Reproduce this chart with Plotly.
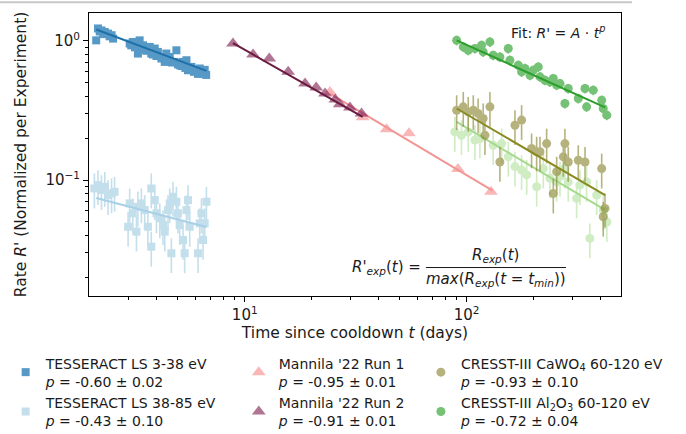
import plotly.graph_objects as go

# ---- data (t in days, R' normalized rate) ----
tess_lo_t = [2.14, 2.18, 2.22, 2.26, 2.30, 2.34, 2.42, 2.46, 2.51, 2.55,
             3.03, 3.08, 3.13, 3.20, 3.30, 3.36, 3.42, 3.48, 3.60, 3.73,
             3.79, 3.86, 3.93, 4.00, 4.06, 4.21, 4.36, 4.43, 4.50, 4.59,
             4.70, 4.83, 4.92, 5.00, 5.09, 5.20, 5.27, 5.40, 5.46, 5.55,
             5.75, 5.90, 6.05, 6.15, 6.27, 6.38, 6.49, 6.60, 6.70]
tess_lo_r = [1.01, 1.23, 1.17, 1.19, 1.12, 1.16, 1.13, 1.08, 1.10, 1.04,
             0.958, 0.93, 0.984, 0.90, 0.812, 1.01, 0.87, 0.931, 0.85, 0.906,
             0.812, 0.80, 0.882, 0.78, 0.834, 0.748, 0.707, 0.812, 0.72, 0.767,
             0.70, 0.707, 0.857, 0.68, 0.669, 0.66, 0.707, 0.64, 0.727, 0.616,
             0.651, 0.60, 0.616, 0.58, 0.634, 0.583, 0.599, 0.62, 0.57]

tess_hi_t = [2.10, 2.18, 2.26, 2.34, 2.42, 2.51, 2.59, 2.98, 3.03, 3.13,
             3.25, 3.30, 3.42, 3.54, 3.66, 3.79, 3.79, 3.93, 4.00, 4.14,
             4.28, 4.36, 4.51, 4.59, 4.67, 4.75, 4.92, 5.00, 5.09, 5.27,
             5.36, 5.46, 5.55, 5.65, 6.16, 6.27, 6.38, 6.49, 6.60, 6.72]
tess_hi_r = [0.0871, 0.0921, 0.0848, 0.0895, 0.078, 0.0803, 0.0824, 0.0462, 0.068, 0.0577,
             0.0426, 0.0643, 0.068, 0.0609, 0.0462, 0.0871, 0.0332, 0.0718, 0.0577, 0.0531,
             0.0475, 0.0426, 0.0609, 0.068, 0.0298, 0.0759, 0.0699, 0.0577, 0.0475, 0.0371,
             0.0298, 0.0609, 0.0718, 0.0462, 0.0298, 0.0489, 0.0577, 0.0371, 0.0489, 0.0699]

mannila1_t = [24.2, 34.0, 43.6, 55.0, 91.4, 128.8]
mannila1_r = [0.43, 0.283, 0.232, 0.217, 0.120, 0.0824]

mannila2_t = [8.85, 10.9, 12.9, 15.7, 18.7, 21.0, 23.0, 25.6, 26.8, 29.8, 33.6]
mannila2_r = [0.957, 0.80, 0.747, 0.60, 0.494, 0.463, 0.419, 0.38, 0.351, 0.332, 0.301]

cawo_t = [90.2, 96.6, 101.7, 107.2, 112.7, 118.8, 121, 127.4, 141.3, 165.2,
          177, 196.3, 206.9, 214.2, 229.6, 245.9, 254.7, 272.9, 277.4, 287.2,
          318.7, 341.8, 406.4, 413, 420.7]
cawo_r = [0.318, 0.336, 0.309, 0.318, 0.301, 0.277, 0.210, 0.336, 0.135, 0.248,
          0.270, 0.169, 0.160, 0.160, 0.183, 0.080, 0.115, 0.147, 0.183, 0.135,
          0.139, 0.135, 0.121, 0.0545, 0.0626]

al2o3_t = [90.2, 96.6, 101.7, 109, 116.8, 118.8, 127.4, 131.8, 141.3, 154.1,
           156.7, 171, 177, 183.2, 193.2, 199.7, 210.4, 214.2, 225.5, 237.6,
           245.9, 254.7, 263.7, 277.4, 287.2, 318.7, 341.8, 347.5, 372.4, 406.4,
           413, 428.5]
al2o3_r = [1.01, 0.906, 0.857, 0.882, 0.931, 0.834, 0.984, 0.789, 0.767, 0.882,
           0.727, 0.669, 0.599, 0.634, 0.567, 0.616, 0.651, 0.552, 0.522, 0.508,
           0.537, 0.481, 0.494, 0.355, 0.455, 0.386, 0.455, 0.336, 0.443, 0.375,
           0.327, 0.293]

# third CRESST set (light green), not listed in the legend
cresst3_t = [88.5, 94.8, 101.7, 109, 114.8, 131.8, 143.9, 154.1, 165.2, 177,
             186.6, 206.9, 221.8, 237.6, 254.7, 263.7, 277.4, 287.2, 313.3, 324.3,
             347.5, 359.5, 385.6, 413, 428.5]
cresst3_r = [0.222, 0.210, 0.222, 0.194, 0.199, 0.178, 0.183, 0.147, 0.125, 0.118,
             0.109, 0.0895, 0.121, 0.103, 0.097, 0.106, 0.121, 0.097, 0.0739, 0.092,
             0.097, 0.0381, 0.078, 0.061, 0.050]

# fit line end points R' = A t^p
fit_tess_lo = ([2.14, 6.72], [1.21, 0.61])
fit_tess_hi = ([2.14, 6.72], [0.0743, 0.046])
fit_mannila1 = ([24.2, 131.0], [0.419, 0.084])
fit_mannila2 = ([8.85, 34.0], [0.965, 0.285])
fit_cawo = ([90.2, 421.0], [0.327, 0.078])
fit_al2o3 = ([90.2, 421.0], [1.01, 0.333])
fit_cresst3 = ([90.2, 421.0], [0.262, 0.061])

FONT = "DejaVu Sans"
TXT = "#1a1a1a"
W, H = 686, 434


def px_to_paper_x(px):
    return (px - 89.3) / 531.7


def px_to_paper_y(py):
    return (296.0 - py) / 283.3


fig = go.Figure()


def add_points(t, r, name, color, symbol, size, opacity, err, legend, rank, show=True):
    fig.add_trace(go.Scatter(
        x=t, y=r, mode="markers", name=name, legend=legend, showlegend=show,
        legendrank=rank,
        marker=dict(color=color, symbol=symbol, size=size, line=dict(width=0)),
        error_y=dict(type="percent", value=err, color=color, thickness=1.6, width=0,
                     visible=err > 0),
        opacity=opacity))


def add_fit(fit, color, width=2):
    fig.add_trace(go.Scatter(x=fit[0], y=fit[1], mode="lines", showlegend=False,
                             line=dict(color=color, width=width), hoverinfo="skip"))


# draw order follows the reference (light sets first)
add_points(tess_hi_t, tess_hi_r, "TESSERACT LS 38-85 eV<br><i>p</i> = -0.43 ± 0.10",
           "#a6cee3", "square", 8, 0.65, 28, "legend", 2)
add_fit(fit_tess_hi, "#a9d0e6")
add_points(tess_lo_t, tess_lo_r, "TESSERACT LS 3-38 eV<br><i>p</i> = -0.60 ± 0.02",
           "#1f77b4", "square", 8, 0.75, 4, "legend", 1)
add_fit(fit_tess_lo, "#1f6fa8")

add_points(mannila1_t, mannila1_r, "Mannila '22 Run 1<br><i>p</i> = -0.95 ± 0.01",
           "#f79a9a", "triangle-up", 12, 0.7, 0, "legend2", 1)
add_fit(fit_mannila1, "#f39595")
add_points(mannila2_t, mannila2_r, "Mannila '22 Run 2<br><i>p</i> = -0.91 ± 0.01",
           "#7d1a4d", "triangle-up", 12, 0.6, 0, "legend2", 2)
add_fit(fit_mannila2, "#6b1a40")

add_points(cresst3_t, cresst3_r, "CRESST-III", "#a8dd92", "circle", 9, 0.55, 28,
           "legend3", 3, show=False)
add_fit(fit_cresst3, "#a6d98d")
add_points(cawo_t, cawo_r, "CRESST-III CaWO<sub>4</sub> 60-120 eV<br><i>p</i> = -0.93 ± 0.10",
           "#87802a", "circle", 9, 0.6, 28, "legend3", 1)
add_fit(fit_cawo, "#8a8a22")
add_points(al2o3_t, al2o3_r, "CRESST-III Al<sub>2</sub>O<sub>3</sub> 60-120 eV<br><i>p</i> = -0.72 ± 0.04",
           "#2ca02c", "circle", 9, 0.65, 8, "legend3", 2)
add_fit(fit_al2o3, "#2b9e2b")

# the legends sit in three columns under the axes
legend_common = dict(orientation="v", yanchor="top", xanchor="left",
                     y=px_to_paper_y(347.5), bgcolor="rgba(0,0,0,0)",
                     font=dict(family=FONT, size=14, color=TXT),
                     traceorder="normal", itemsizing="trace")

minor_x = [3, 4, 5, 6, 7, 8, 9, 20, 30, 40, 50, 60, 70, 80, 90, 200, 300, 400]
minor_y = [0.02, 0.03, 0.04, 0.05, 0.06, 0.07, 0.08, 0.09,
           0.2, 0.3, 0.4, 0.5, 0.6, 0.7, 0.8, 0.9]

axis_common = dict(showline=True, linecolor="black", linewidth=1, mirror=True,
                   showgrid=False, zeroline=False, ticks="outside", ticklen=5,
                   tickwidth=1, tickcolor="black", automargin=False,
                   tickfont=dict(family=FONT, size=15, color=TXT))

fig.update_layout(
    width=W, height=H,
    # autoexpand off so the legends below don't move the axes
    margin=dict(l=89, r=65, t=13, b=138, autoexpand=False),
    paper_bgcolor="white", plot_bgcolor="white",
    font=dict(family=FONT, size=14, color=TXT),
    legend=dict(legend_common, x=px_to_paper_x(6)),
    legend2=dict(legend_common, x=px_to_paper_x(239)),
    legend3=dict(legend_common, x=px_to_paper_x(421)),
    xaxis=dict(axis_common, type="log", range=[0.298, 2.696],
               tickmode="array", tickvals=[10, 100],
               ticktext=["10<sup>1</sup>", "10<sup>2</sup>"],
               minor=dict(tickmode="array", tickvals=minor_x, ticks="outside",
                          ticklen=3, tickcolor="black", showgrid=False),
               title=dict(text="Time since cooldown <i>t</i> (days)", standoff=2,
                          font=dict(family=FONT, size=15.5, color=TXT))),
    yaxis=dict(axis_common, type="log", range=[-1.833, 0.201],
               tickmode="array", tickvals=[0.1, 1],
               ticktext=["10<sup>\u22121</sup>", "10<sup>0</sup>"],
               minor=dict(tickmode="array", tickvals=minor_y, ticks="outside",
                          ticklen=3, tickcolor="black", showgrid=False),
               title=dict(text="Rate <i>R'</i> (Normalized per Experiment)", standoff=14,
                          font=dict(family=FONT, size=15.5, color=TXT))),
)

# text inside the axes
ann_font = dict(family=FONT, size=15, color=TXT)
fig.add_annotation(x=px_to_paper_x(607), y=px_to_paper_y(32), xref="paper", yref="paper",
                   text="Fit: <i>R'</i> = <i>A</i> · <i>t<sup>p</sup></i>", showarrow=False,
                   xanchor="right", yanchor="middle", font=dict(ann_font, size=14))
fig.add_annotation(x=px_to_paper_x(423), y=px_to_paper_y(267), xref="paper", yref="paper",
                   text="<i>R'<sub>exp</sub></i>(<i>t</i>) =", showarrow=False,
                   xanchor="right", yanchor="middle", font=ann_font)
fig.add_annotation(x=px_to_paper_x(496), y=px_to_paper_y(255), xref="paper", yref="paper",
                   text="<i>R<sub>exp</sub></i>(<i>t</i>)", showarrow=False,
                   xanchor="center", yanchor="middle", font=ann_font)
fig.add_annotation(x=px_to_paper_x(496), y=px_to_paper_y(279), xref="paper", yref="paper",
                   text="<i>max</i>(<i>R<sub>exp</sub></i>(<i>t</i> = <i>t<sub>min</sub></i>))",
                   showarrow=False, xanchor="center", yanchor="middle", font=ann_font)
fig.add_shape(type="line", xref="paper", yref="paper",
              x0=px_to_paper_x(426), x1=px_to_paper_x(566),
              y0=px_to_paper_y(267.5), y1=px_to_paper_y(267.5),
              line=dict(color=TXT, width=1))

# thin grey rule along the very top of the picture
fig.add_shape(type="line", xref="paper", yref="paper",
              x0=px_to_paper_x(0), x1=px_to_paper_x(632),
              y0=px_to_paper_y(2), y1=px_to_paper_y(2),
              line=dict(color="#c8c8c8", width=2))

# drop the browser's default 8px body margin so the figure sits at (0, 0)
fig.write_html("out.html", config={"displayModeBar": False},
               post_script="document.body.style.margin='0px';")
